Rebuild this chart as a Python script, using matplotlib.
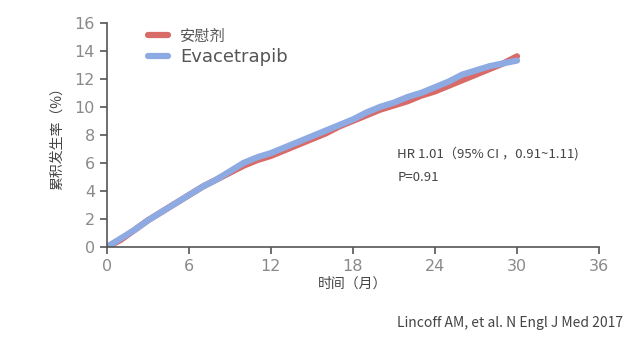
import matplotlib
matplotlib.use("Agg")
import matplotlib.pyplot as plt

plt.rcParams['font.family'] = ['Noto Sans CJK SC', 'DejaVu Sans']

# =========================
# DATA
# =========================
months = [0, 1, 2, 3, 4, 5, 6, 7, 8, 9, 10, 11, 12, 13, 14, 15,
          16, 17, 18, 19, 20, 21, 22, 23, 24, 25, 26, 27, 28, 29, 30]
evacetrapib = [0, 0.6, 1.2, 1.9, 2.5, 3.1, 3.7, 4.3, 4.8, 5.4, 6.0, 6.4, 6.7, 7.1, 7.5, 7.9,
               8.3, 8.7, 9.1, 9.6, 10.0, 10.3, 10.7, 11.0, 11.4, 11.8, 12.3, 12.6, 12.9, 13.1, 13.3]
placebo = [0, 0.5, 1.2, 1.9, 2.5, 3.1, 3.7, 4.3, 4.8, 5.3, 5.8, 6.2, 6.5, 6.9, 7.3, 7.7,
           8.1, 8.6, 9.0, 9.4, 9.8, 10.1, 10.4, 10.8, 11.1, 11.5, 11.9, 12.3, 12.7, 13.1, 13.6]

x_ticks = [0, 6, 12, 18, 24, 30, 36]
y_ticks = [0, 2, 4, 6, 8, 10, 12, 14, 16]

# =========================
# PLOT
# =========================
fig = plt.figure(figsize=(6.4, 3.44), dpi=100)
ax = fig.add_axes([0.167, 0.282, 0.769, 0.652])

ax.plot(months, placebo, color='#d86a68', lw=4.5, solid_capstyle='round', label='安慰剂')
ax.plot(months, evacetrapib, color='#8eaae2', lw=4.5, solid_capstyle='round', label='Evacetrapib')

ax.set_xlim(0, 36)
ax.set_ylim(0, 16)
ax.set_xticks(x_ticks)
ax.set_yticks(y_ticks)

for s in ['top', 'right']:
    ax.spines[s].set_visible(False)
for s in ['left', 'bottom']:
    ax.spines[s].set_color('#555555')
    ax.spines[s].set_linewidth(1.2)
ax.tick_params(colors='#555555', labelcolor='#8a8a8a', labelsize=12, length=5, width=1.2)
for lab in ax.get_xticklabels() + ax.get_yticklabels():
    lab.set_family(['DejaVu Sans'])
    lab.set_fontsize(11.5)

ax.set_xlabel('时间（月）', fontsize=10, color='#444444', labelpad=2)
ax.set_ylabel('累积发生率（%）', fontsize=10, color='#444444', labelpad=8)

leg = ax.legend(loc='upper left', bbox_to_anchor=(0.055, 1.04), frameon=False,
                fontsize=11, handlelength=1.3, labelspacing=0.2)
for t in leg.get_texts():
    t.set_color('#555555')
leg.get_texts()[1].set_family(['DejaVu Sans'])
leg.get_texts()[1].set_fontsize(13)

ax.text(0.59, 0.415, 'HR 1.01（95% CI ，0.91~1.11)', transform=ax.transAxes,
        fontsize=9.5, color='#444444', va='center')
ax.text(0.59, 0.31, 'P=0.91', transform=ax.transAxes, fontsize=9.5, color='#444444',
        va='center')

fig.text(0.62, 0.06, 'Lincoff AM, et al. N Engl J Med 2017', fontsize=10, color='#444444',
         va='center')

plt.savefig("out.png", dpi=100)
